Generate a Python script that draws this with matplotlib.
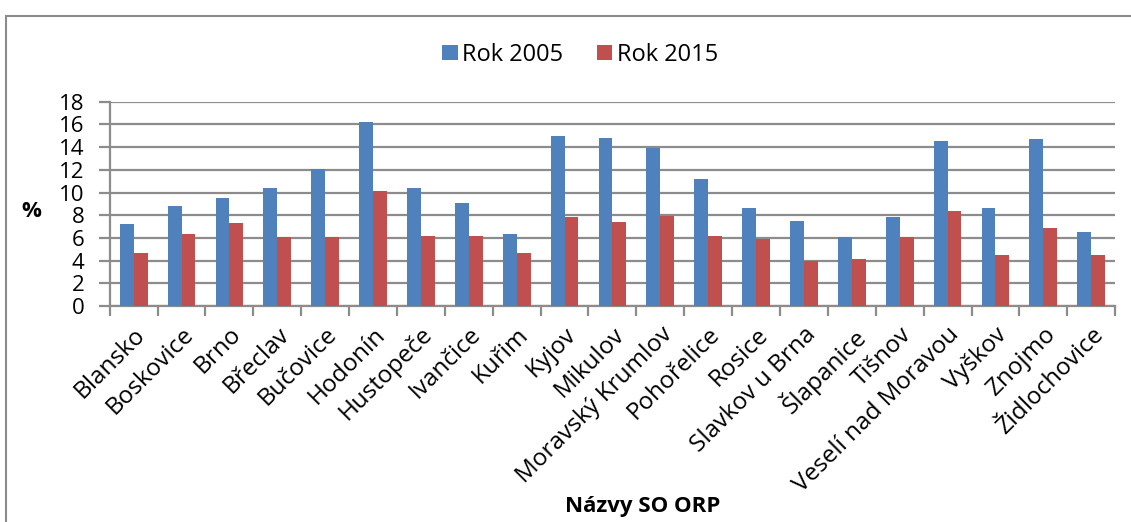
import numpy as np
import matplotlib
matplotlib.use("Agg")
import matplotlib.pyplot as plt
from matplotlib.patches import Rectangle

plt.rcParams['font.family'] = ['Open Sans', 'DejaVu Sans']

orp = ["Blansko", "Boskovice", "Brno", "Břeclav", "Bučovice", "Hodonín", "Hustopeče",
       "Ivančice", "Kuřim", "Kyjov", "Mikulov", "Moravský Krumlov", "Pohořelice", "Rosice",
       "Slavkov u Brna", "Šlapanice", "Tišnov", "Veselí nad Moravou", "Vyškov", "Znojmo",
       "Židlochovice"]
rok_2005 = [7.2, 8.8, 9.5, 10.4, 12.1, 16.2, 10.4, 9.1, 6.3, 15.0, 14.8, 13.9, 11.2, 8.6,
            7.5, 6.1, 7.8, 14.5, 8.6, 14.7, 6.5]
rok_2015 = [4.7, 6.3, 7.3, 6.1, 6.1, 10.1, 6.2, 6.2, 4.7, 7.8, 7.4, 7.9, 6.2, 5.9,
            4.0, 4.1, 6.1, 8.4, 4.5, 6.9, 4.5]

blue, red = "#4F81BD", "#C0504D"
grid_c = "#8C8C8C"

fig = plt.figure(figsize=(11.31, 5.22), dpi=100)
ax = fig.add_axes([0.097, 0.414, 0.889, 0.391])

x = np.arange(len(orp))
w = 0.29
ax.bar(x - w / 2, rok_2005, w, color=blue, label="Rok 2005", zorder=3)
ax.bar(x + w / 2, rok_2015, w, color=red, label="Rok 2015", zorder=3)

ax.set_xlim(-0.5, len(orp) - 0.5)
ax.set_ylim(0, 18)
ax.set_yticks(range(0, 19, 2))
ax.yaxis.grid(True, color=grid_c, lw=1.6, zorder=0)
ax.set_axisbelow(True)
for s in ["top", "right"]:
    ax.spines[s].set_visible(False)
for s in ["left", "bottom"]:
    ax.spines[s].set_color(grid_c)
    ax.spines[s].set_linewidth(1.6)
ax.tick_params(axis="y", length=8, width=1.6, color=grid_c, labelsize=16, pad=10)

# category ticks at boundaries, labels at centres
ax.set_xticks(np.arange(-0.5, len(orp) + 0.5, 1))
ax.set_xticklabels([])
ax.tick_params(axis="x", which="major", length=7, width=1.6, color=grid_c)
ax.set_xticks(x, minor=True)
ax.set_xticklabels(orp, minor=True, rotation=45, ha="right", rotation_mode="anchor",
                   fontsize=17.5)
ax.tick_params(axis="x", which="minor", length=0, pad=12)

ax.set_xlabel("Názvy SO ORP", fontsize=16, fontweight="bold")
ax.xaxis.set_label_coords(0.53, -0.93)
fig.text(0.028, 0.594, "%", fontsize=16, fontweight="bold", ha="center", va="center")

fig.legend(loc="center", bbox_to_anchor=(0.513, 0.895), ncol=2, frameon=False,
           fontsize=17, handlelength=0.65, handleheight=0.65, handletextpad=0.2,
           columnspacing=1.4)

fig.patches.append(Rectangle((0.005, -0.01), 1.2, 0.98, transform=fig.transFigure,
                             fill=False, edgecolor="#8C8C8C", lw=1.5))

fig.savefig("out.png", dpi=100)
